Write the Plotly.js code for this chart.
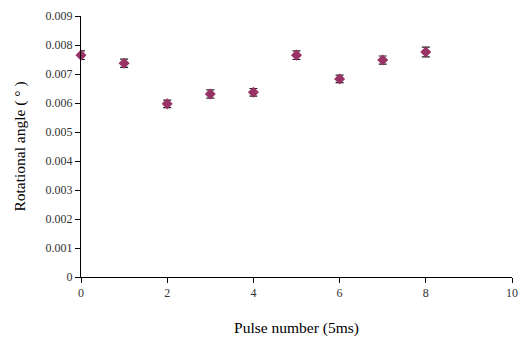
<!DOCTYPE html>
<html>
<head>
<meta charset="utf-8">
<script src="https://cdn.plot.ly/plotly-3.0.1.min.js"></script>
<style>html,body{margin:0;padding:0;background:#fff;}#chart{width:518px;height:338px;}</style>
</head>
<body>
<div id="chart"></div>
<script>
var pulses = [0, 1, 2, 3, 4, 5, 6, 7, 8];
var angles = [0.00765, 0.00737, 0.00597, 0.00631, 0.00637, 0.00765, 0.00683, 0.00748, 0.00776];
var errors = [0.00015, 0.00014, 0.00013, 0.00014, 0.00013, 0.00015, 0.00013, 0.00014, 0.00017];
var yTickVals = [0, 0.001, 0.002, 0.003, 0.004, 0.005, 0.006, 0.007, 0.008, 0.009];
var yTickText = ["0", "0.001", "0.002", "0.003", "0.004", "0.005", "0.006", "0.007", "0.008", "0.009"];

var trace = {
  x: pulses, y: angles, type: 'scatter', mode: 'markers',
  marker: {symbol: 'diamond', size: 8.5, color: '#993366', line: {width: 0}},
  error_y: {type: 'data', array: errors, visible: true, color: '#222', thickness: 1.2, width: 4},
  cliponaxis: false
};
var font = {family: '"Liberation Serif", "Times New Roman", serif', color: '#333', size: 12};
var layout = {
  width: 518, height: 338,
  margin: {l: 81, r: 6, t: 16, b: 61},
  paper_bgcolor: '#fff', plot_bgcolor: '#fff',
  showlegend: false,
  font: font,
  xaxis: {
    range: [0, 10], tickvals: [0, 2, 4, 6, 8, 10], showgrid: false, zeroline: false,
    showline: true, linecolor: '#000', linewidth: 1, ticks: 'outside', ticklen: 5, tickcolor: '#000',
    tickfont: font,
    title: {text: 'Pulse number (5ms)', font: {family: font.family, size: 15.5, color: '#000'}, standoff: 22}
  },
  yaxis: {
    range: [0, 0.009], tickvals: yTickVals, ticktext: yTickText, showgrid: false, zeroline: false,
    showline: true, linecolor: '#000', linewidth: 1, ticks: 'outside', ticklen: 5, tickcolor: '#000',
    tickfont: font,
    title: {text: 'Rotational angle ( ° )', font: {family: font.family, size: 15.5, color: '#000'}, standoff: 16}
  }
};
Plotly.newPlot('chart', [trace], layout, {staticPlot: true, displayModeBar: false});
</script>
</body>
</html>
